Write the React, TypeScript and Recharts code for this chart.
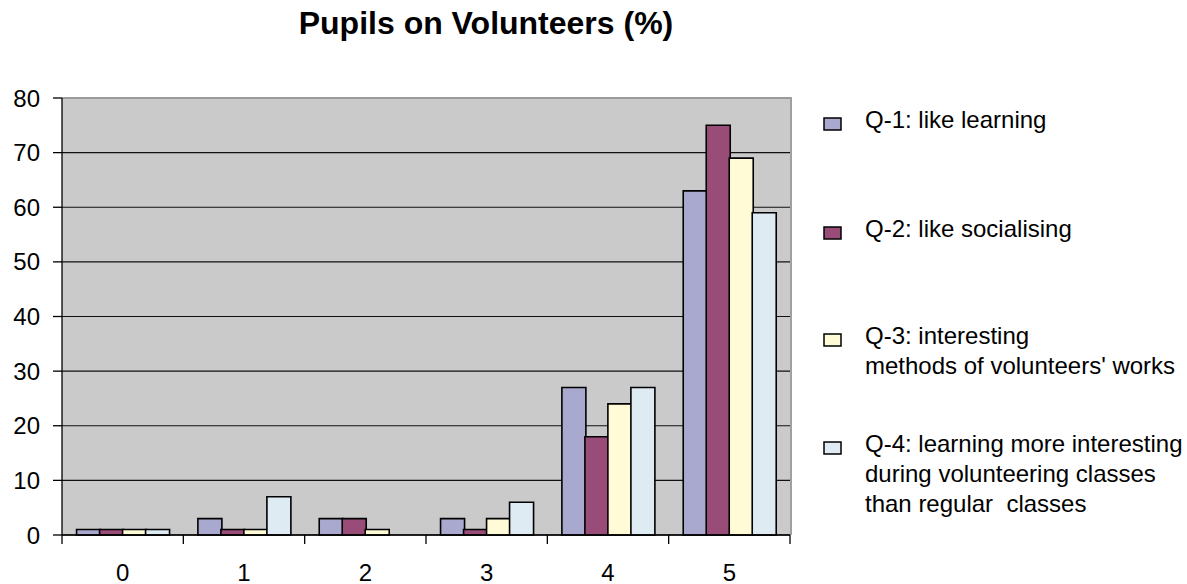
import React from "react";
import {
  Bar,
  BarChart,
  CartesianGrid,
  ReferenceLine,
  XAxis,
  YAxis,
} from "recharts";

const grades = ["0", "1", "2", "3", "4", "5"];
const q1 = [1, 3, 3, 3, 27, 63];
const q2 = [1, 1, 3, 1, 18, 75];
const q3 = [1, 1, 1, 3, 24, 69];
const q4 = [1, 7, 0, 6, 27, 59];
const yTicks = [0, 10, 20, 30, 40, 50, 60, 70, 80];

const seriesKeys = ["q1", "q2", "q3", "q4"];
const seriesColors = ["#A9A9CF", "#994C77", "#FFFBD7", "#DEEBF3"];
const seriesLabels = [
  ["Q-1: like learning"],
  ["Q-2: like socialising"],
  ["Q-3: interesting", "methods of volunteers' works"],
  ["Q-4: learning more interesting", "during volunteering classes", "than regular  classes"],
];

const data = grades.map((g, i) => ({
  grade: g,
  q1: q1[i],
  q2: q2[i],
  q3: q3[i],
  q4: q4[i],
}));

const FONT = "'Liberation Sans', Arial, sans-serif";
const W = 1187;
const H = 584;
const LEFT = 62;
const RIGHT = 397;
const TOP = 98;
const X_AXIS_H = 49;
const halfBand = (W - LEFT - RIGHT) / grades.length / 2;

function XTick(props: any) {
  const { x, y, payload, index } = props;
  return (
    <g>
      <line x1={x - halfBand} x2={x - halfBand} y1={y} y2={y + 9} stroke="#000" strokeWidth={1.3} />
      {index === grades.length - 1 && (
        <line x1={x + halfBand} x2={x + halfBand} y1={y} y2={y + 9} stroke="#000" strokeWidth={1.3} />
      )}
      <text x={x} y={y + 46} textAnchor="middle" fontSize={24} fontFamily={FONT} fill="#000">
        {payload.value}
      </text>
    </g>
  );
}

function Overlay() {
  const baselines = [128, 237, 344, 452];
  return (
    <svg
      width={W}
      height={H}
      style={{ position: "absolute", left: 0, top: 0, pointerEvents: "none" }}
    >
      <text
        x={486}
        y={34}
        textAnchor="middle"
        fontFamily={FONT}
        fontWeight="bold"
        fontSize={32}
        fill="#000"
      >
        Pupils on Volunteers (%)
      </text>
      {seriesKeys.map((k, i) => (
        <g key={k}>
          <rect
            x={824}
            y={baselines[i] - 10}
            width={17}
            height={12}
            fill={seriesColors[i]}
            stroke="#000"
            strokeWidth={1.5}
          />
          {seriesLabels[i].map((l, j) => (
            <text
              key={j}
              x={865}
              y={baselines[i] + j * 30}
              fontFamily={FONT}
              fontSize={24}
              fill="#000"
              style={{ whiteSpace: "pre" }}
            >
              {l}
            </text>
          ))}
        </g>
      ))}
    </svg>
  );
}

export default function App() {
  return (
    <div style={{ position: "absolute", left: 0, top: 0, width: W, height: H, background: "#fff" }}>
      <BarChart
        width={W}
        height={H}
        data={data}
        margin={{ top: TOP, right: RIGHT, left: 0, bottom: 0 }}
        barCategoryGap="12%"
        barGap={-1}
      >
        <CartesianGrid vertical={false} stroke="#111" strokeWidth={1.2} fill="#CACACA" />
        <ReferenceLine y={80} stroke="#9A9A9A" strokeWidth={2} />
        <XAxis
          dataKey="grade"
          height={X_AXIS_H}
          tickLine={false}
          tickSize={0}
          tickMargin={0}
          axisLine={{ stroke: "#000", strokeWidth: 1.3 }}
          tick={<XTick />}
          interval={0}
        />
        <YAxis
          width={LEFT}
          domain={[0, 80]}
          ticks={yTicks}
          interval={0}
          tickSize={9}
          tickLine={{ stroke: "#000", strokeWidth: 1.3 }}
          axisLine={{ stroke: "#000", strokeWidth: 1.3 }}
          tick={{ fill: "#000", fontSize: 24, fontFamily: FONT }}
          tickMargin={13}
        />
        {seriesKeys.map((k, i) => (
          <Bar
            key={k}
            dataKey={k}
            fill={seriesColors[i]}
            stroke="#000"
            strokeWidth={1.6}
            isAnimationActive={false}
          />
        ))}
      </BarChart>
      <div
        style={{
          position: "absolute",
          left: W - RIGHT,
          top: TOP - 1,
          width: 2,
          height: H - TOP - X_AXIS_H + 1,
          background: "#A0A0A0",
        }}
      />
      <Overlay />
    </div>
  );
}
